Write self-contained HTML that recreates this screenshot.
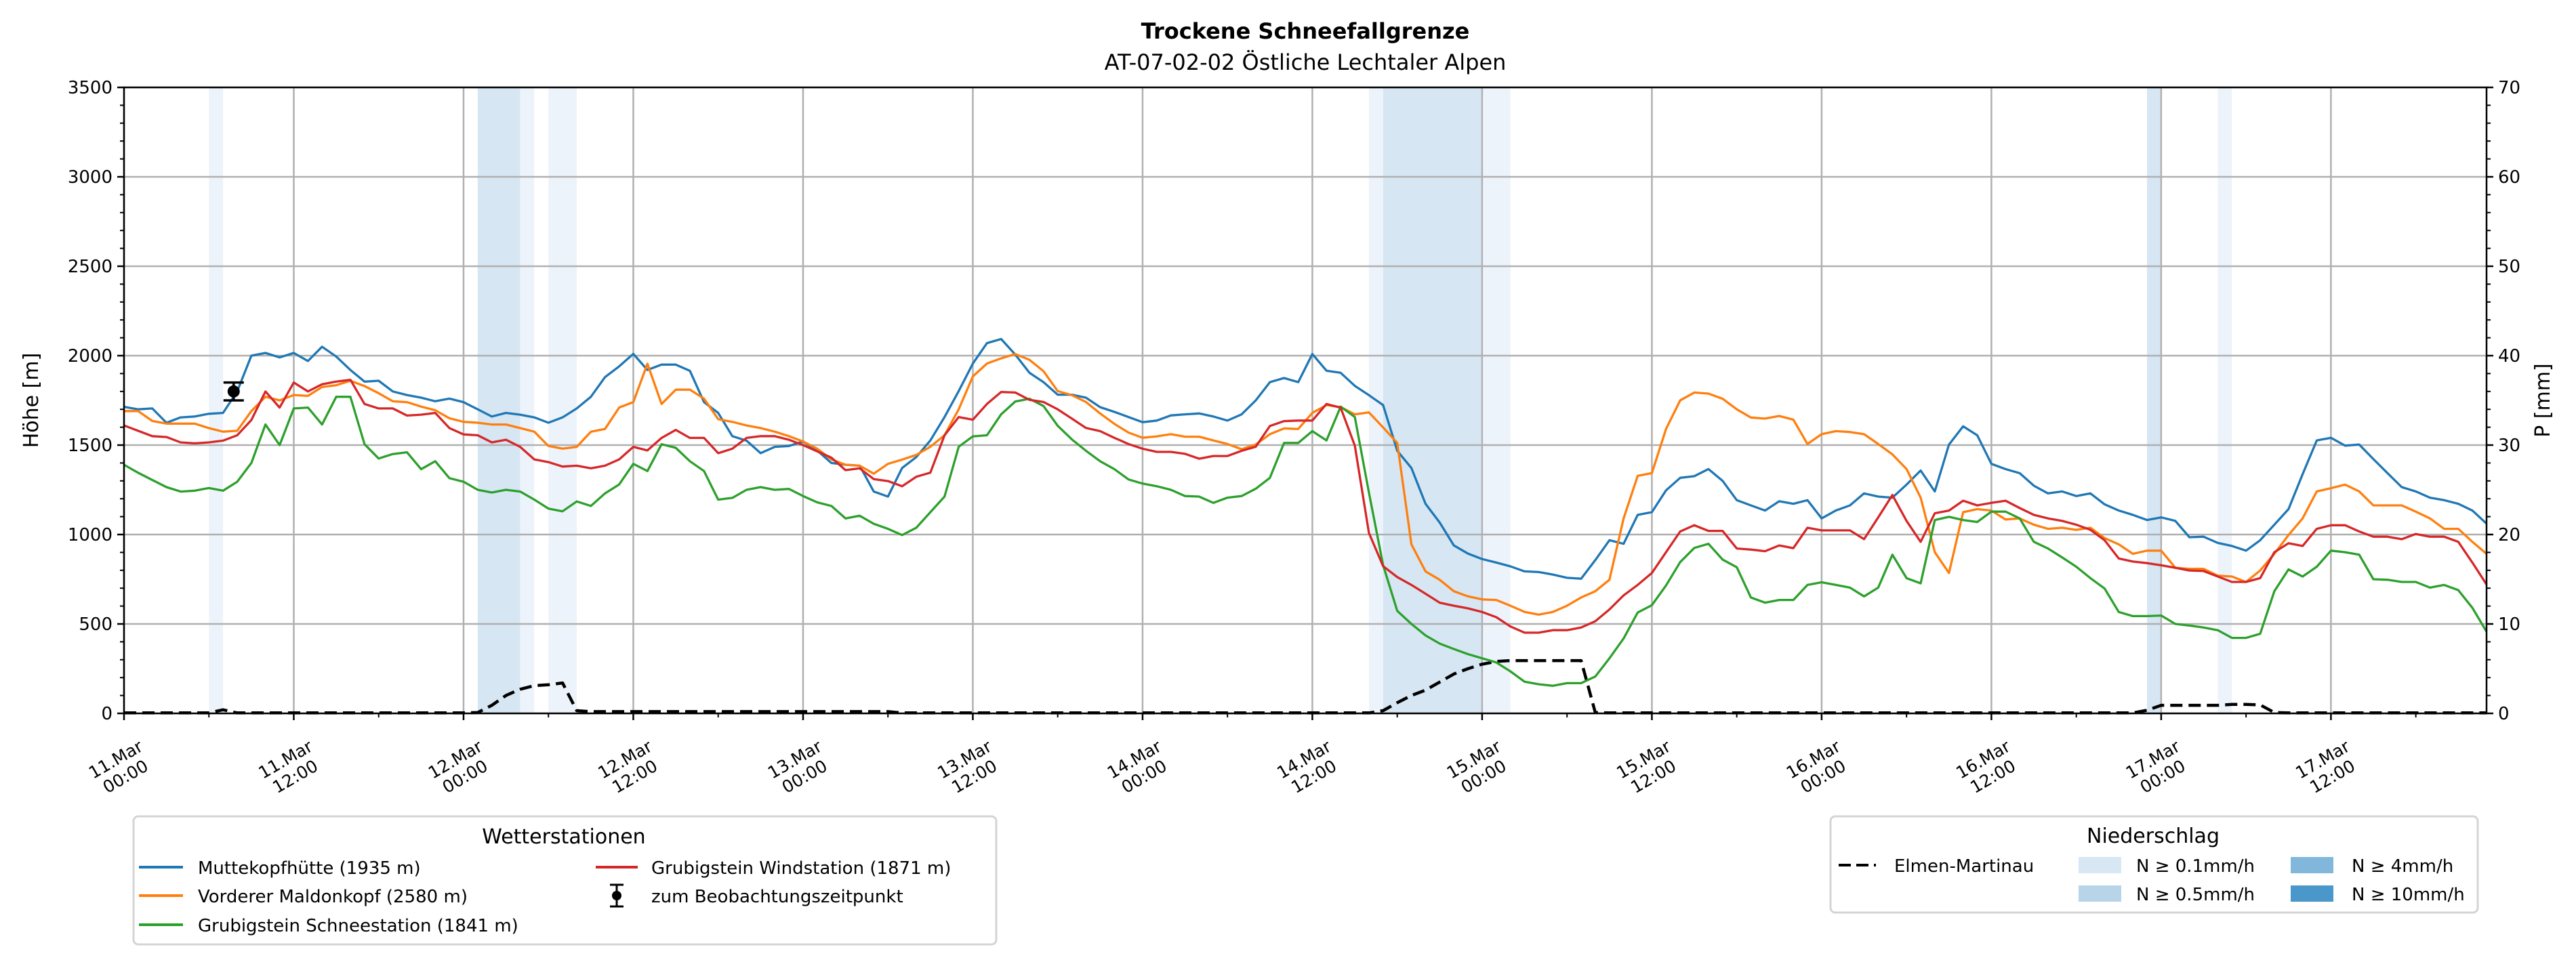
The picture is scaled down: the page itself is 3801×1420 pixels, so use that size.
<!DOCTYPE html>
<html><head><meta charset="utf-8"><style>
html,body{margin:0;padding:0;background:#fff;}
svg{display:block;font-family:"DejaVu Sans","Liberation Sans",sans-serif;}
</style></head><body>
<svg id="chart" width="3801" height="1420" viewBox="0 0 3801 1420" xmlns="http://www.w3.org/2000/svg">
<rect width="3801" height="1420" fill="#fff"/>
<text x="1926" y="57" font-size="32" font-weight="bold" text-anchor="middle">Trockene Schneefallgrenze</text>
<text x="1926" y="103" font-size="32" text-anchor="middle">AT-07-02-02 Östliche Lechtaler Alpen</text>
<g id="bands"></g><g id="grid"></g><g id="series"></g><g id="axes"></g>
<text x="0" y="0" font-size="30" text-anchor="middle" transform="translate(56,591) rotate(-90)">Höhe [m]</text>
<text x="0" y="0" font-size="30" text-anchor="middle" transform="translate(3762,591) rotate(-90)">P [mm]</text>

<g>
<rect x="197" y="1205" width="1273" height="189" rx="7" fill="#fff" stroke="#d4d4d4" stroke-width="3"/>
<text x="832" y="1245" font-size="30" text-anchor="middle">Wetterstationen</text>
<g><line x1="205" y1="1280" x2="270" y2="1280" stroke="#1f77b4" stroke-width="4"/><text x="292" y="1290" font-size="26">Muttekopfhütte (1935 m)</text></g>
<g><line x1="205" y1="1322" x2="270" y2="1322" stroke="#ff7f0e" stroke-width="4"/><text x="292" y="1332" font-size="26">Vorderer Maldonkopf (2580 m)</text></g>
<g><line x1="205" y1="1365" x2="270" y2="1365" stroke="#2ca02c" stroke-width="4"/><text x="292" y="1375" font-size="26">Grubigstein Schneestation (1841 m)</text></g>
<g><line x1="879" y1="1280" x2="941" y2="1280" stroke="#d62728" stroke-width="4"/><text x="961" y="1290" font-size="26">Grubigstein Windstation (1871 m)</text></g>
<g><line x1="910" y1="1306" x2="910" y2="1338" stroke="#000" stroke-width="3"/><line x1="900" y1="1306" x2="920" y2="1306" stroke="#000" stroke-width="3"/><line x1="900" y1="1338" x2="920" y2="1338" stroke="#000" stroke-width="3"/><circle cx="910" cy="1322" r="7"/><text x="961" y="1332" font-size="26">zum Beobachtungszeitpunkt</text></g>
</g>

<g>
<rect x="2701" y="1205" width="955" height="142" rx="7" fill="#fff" stroke="#d4d4d4" stroke-width="3"/>
<text x="3177" y="1244" font-size="30" text-anchor="middle">Niederschlag</text>
<g><line x1="2713" y1="1277" x2="2768" y2="1277" stroke="#000" stroke-width="4" stroke-dasharray="18,8"/><text x="2795" y="1287" font-size="26">Elmen-Martinau</text></g>
<g><rect x="3067" y="1265" width="63" height="24" fill="#d8e7f4"/><text x="3152" y="1287" font-size="26">N ≥ 0.1mm/h</text></g>
<g><rect x="3067" y="1307" width="63" height="24" fill="#b8d4e9"/><text x="3152" y="1329" font-size="26">N ≥ 0.5mm/h</text></g>
<g><rect x="3380" y="1265" width="63" height="24" fill="#80b7da"/><text x="3470" y="1287" font-size="26">N ≥ 4mm/h</text></g>
<g><rect x="3380" y="1307" width="63" height="24" fill="#4a97c9"/><text x="3470" y="1329" font-size="26">N ≥ 10mm/h</text></g>
</g>
</svg>
<script>
const blue=[1714,1700,1705,1625,1655,1660,1675,1680,1800,2000,2015,1990,2015,1970,2050,1995,1920,1855,1860,1800,1780,1765,1745,1760,1740,1700,1660,1680,1670,1655,1625,1655,1705,1770,1880,1940,2010,1920,1950,1950,1915,1740,1680,1550,1525,1455,1490,1495,1520,1470,1400,1390,1385,1240,
1212,1372,1433,1526,1657,1802,1956,2070,2093,2006,1904,1852,1782,1782,1765,1712,1686,1657,1628,1637,1666,1672,1677,1660,1637,1672,1750,1852,1875,1852,2009,1916,1904,1831,1779,1724,1468,1372,1172,1067,939,893,863,843,822,794,790,776,758,753,857,968,948,1110,1125,1247,1317,1326,1366,1300,1192,1163,
1134,1186,1172,1192,1090,1134,1163,1230,1212,1206,1279,1358,1241,1503,1605,1555,1395,1366,1343,1273,1230,1241,1215,1230,1169,1134,1110,1081,1096,1076,985,988,953,936,910,968,1055,1142,1337,1526,1541,1497,1503,1422,1343,1265,1241,1206,1192,1172,1134,1061];
const orange=[1690,1690,1635,1620,1620,1620,1595,1575,1580,1690,1770,1750,1780,1775,1825,1835,1860,1830,1790,1745,1740,1715,1695,1650,1630,1625,1615,1615,1595,1575,1495,1480,1490,1575,1590,1710,1740,1955,1730,1810,1810,1760,1645,1630,1610,1595,1575,1550,1520,1480,1420,1390,1385,1340,
1395,1419,1445,1491,1555,1700,1884,1956,1985,2009,1977,1913,1802,1779,1741,1677,1619,1570,1541,1549,1561,1547,1547,1526,1506,1477,1503,1561,1593,1590,1680,1724,1712,1672,1683,1599,1512,945,794,747,683,654,637,634,602,567,552,567,602,648,683,747,1090,1328,1343,1590,1750,1794,1788,1759,1700,1654,
1648,1663,1642,1506,1561,1578,1573,1561,1506,1448,1366,1206,901,785,1125,1142,1134,1084,1090,1055,1032,1038,1026,1038,980,945,892,910,910,814,808,808,770,765,735,799,892,997,1090,1241,1259,1279,1241,1163,1163,1163,1128,1090,1032,1032,959,892];
const green=[1390,1345,1305,1265,1240,1245,1260,1245,1295,1400,1615,1500,1705,1710,1615,1770,1770,1505,1425,1450,1460,1365,1410,1315,1295,1250,1235,1250,1240,1195,1145,1130,1185,1160,1230,1280,1395,1355,1505,1485,1410,1355,1195,1205,1250,1265,1250,1255,1215,1180,1160,1090,1105,1060,
1032,997,1038,1125,1212,1491,1549,1555,1672,1744,1759,1718,1608,1532,1468,1410,1366,1308,1285,1270,1250,1215,1212,1177,1206,1215,1256,1317,1512,1512,1578,1526,1715,1657,1235,829,573,500,436,390,360,331,308,285,235,177,163,154,169,169,206,308,419,564,605,715,846,925,948,860,817,648,
619,634,634,718,733,718,703,654,703,887,756,727,1081,1099,1081,1070,1128,1128,1090,959,922,872,820,756,698,567,544,544,547,500,491,480,465,422,422,445,683,805,765,820,910,901,887,750,747,735,735,703,718,689,590,457];
const red=[1610,1580,1550,1545,1515,1510,1515,1525,1555,1640,1800,1710,1850,1800,1840,1855,1865,1730,1705,1705,1665,1670,1680,1595,1560,1555,1515,1530,1490,1420,1405,1380,1385,1370,1385,1420,1490,1470,1540,1585,1540,1540,1455,1480,1540,1550,1550,1530,1500,1465,1430,1360,1370,1310,
1299,1270,1323,1346,1555,1657,1642,1730,1797,1794,1753,1741,1700,1648,1596,1578,1541,1506,1480,1462,1462,1451,1424,1439,1439,1468,1491,1607,1634,1637,1637,1730,1709,1497,1009,823,762,718,669,619,602,587,567,538,486,451,451,465,465,480,515,581,660,718,785,901,1017,1052,1020,1020,922,916,
907,939,924,1038,1023,1023,1023,974,1096,1221,1076,959,1119,1134,1189,1163,1177,1189,1148,1110,1090,1076,1055,1026,968,866,849,840,828,814,799,796,765,735,735,756,901,951,936,1032,1052,1052,1017,988,988,974,1003,988,988,959,843,721];
const precip=[0.05,0.05,0.05,0.05,0.05,0.05,0.05,0.4,0.05,0.05,0.05,0.05,0.05,0.05,0.05,0.05,0.05,0.05,0.05,0.05,0.05,0.05,0.05,0.05,0.05,
0.1,0.9,2.0,2.7,3.1,3.2,3.4,0.3,
0.2,0.2,0.2,0.2,0.2,0.2,0.2,0.2,0.2,0.2,0.2,0.2,0.2,0.2,0.2,0.2,0.2,0.2,0.2,0.2,0.2,0.2,
0.05,0.05,0.05,0.05,0.05,0.05,0.05,0.05,0.05,0.05,0.05,0.05,0.05,0.05,0.05,0.05,0.05,0.05,0.05,0.05,0.05,0.05,0.05,0.05,0.05,0.05,0.05,0.05,0.05,0.05,0.05,0.05,0.05,0.05,
0.3,1.2,2.0,2.6,3.5,4.4,5.0,5.5,5.8,5.9,5.9,5.9,5.9,5.9,5.9,0.1,
0.05,0.05,0.05,0.05,0.05,0.05,0.05,0.05,0.05,0.05,0.05,0.05,0.05,0.05,0.05,0.05,0.05,0.05,0.05,0.05,0.05,0.05,0.05,0.05,0.05,0.05,0.05,0.05,0.05,0.05,0.05,0.05,0.05,0.05,0.05,0.05,0.05,0.05,
0.35,0.9,0.9,0.9,0.9,0.9,1.0,1.0,0.95,0.1,
0.05,0.05,0.05,0.05,0.05,0.05,0.05,0.05,0.05,0.05,0.05,0.05,0.05,0.05,0.05];
const bandStart=[6,25,28,30,88,89,96,143,148];
const bandEnd=[7,28,29,32,89,96,98,144,149];
const bandLevel=[1,2,1,1,1,2,1,2,1];
const obsHour=[7.75];
const obsValue=[1800];
const obsErr=[50];
const yTicks=[0,500,1000,1500,2000,2500,3000,3500];
const y2Ticks=[0,10,20,30,40,50,60,70];
const xTickDates=["11.Mar","11.Mar","12.Mar","12.Mar","13.Mar","13.Mar","14.Mar","14.Mar","15.Mar","15.Mar","16.Mar","16.Mar","17.Mar","17.Mar"];
const xTickTimes=["00:00","12:00","00:00","12:00","00:00","12:00","00:00","12:00","00:00","12:00","00:00","12:00","00:00","12:00"];

const L=183,R=3669,T=129,B=1053,HMAX=167,YMAX=3500,PMAX=70;
const NS="http://www.w3.org/2000/svg";
const xs=h=>L+h*(R-L)/HMAX;
const ys=v=>B-v/YMAX*(B-T);
const yp=p=>B-p/PMAX*(B-T);
function mk(tag,attrs,parent){const e=document.createElementNS(NS,tag);for(const k in attrs)e.setAttribute(k,attrs[k]);parent.appendChild(e);return e;}
const gB=document.getElementById('bands'),gG=document.getElementById('grid'),gS=document.getElementById('series'),gA=document.getElementById('axes');

bandStart.forEach((s,i)=>{
  const r=mk('rect',{x:xs(s),y:T,width:xs(bandEnd[i])-xs(s),height:B-T,fill:bandLevel[i]===2?'#d6e6f3':'#edf3fa'},gB);
  
  
});
yTicks.forEach(v=>{
  const l=mk('line',{x1:L,x2:R,y1:ys(v),y2:ys(v),stroke:'#b0b0b0','stroke-width':2.5},gG);
  
  
});
xTickDates.forEach((d,i)=>{
  const x=xs(i*12);
  const l=mk('line',{x1:x,x2:x,y1:T,y2:B,stroke:'#b0b0b0','stroke-width':2.5},gG);
  
  
});
function poly(arr,scale,color,name,dash){
  const pts=arr.map((v,i)=>xs(i).toFixed(1)+','+scale(v).toFixed(1)).join(' ');
  const p=mk('polyline',{points:pts,fill:'none',stroke:color,'stroke-width':dash?4.5:3.3,'stroke-linejoin':'round'},gS);
  if(dash)p.setAttribute('stroke-dasharray','18,9');
  
  
}
poly(precip,yp,'#000','precip-line-elmen-martinau',true);
poly(blue,ys,'#1f77b4','line-muttekopfhuette');
poly(orange,ys,'#ff7f0e','line-maldonkopf');
poly(green,ys,'#2ca02c','line-schneestation');
poly(red,ys,'#d62728','line-windstation');
obsHour.forEach((h,i)=>{
  const g=mk('g',{},gS);
  
  
  const x=xs(h);
  mk('line',{x1:x,x2:x,y1:ys(obsValue[i]+obsErr[i]),y2:ys(obsValue[i]-obsErr[i]),stroke:'#000','stroke-width':3.5},g);
  mk('line',{x1:x-15,x2:x+15,y1:ys(obsValue[i]+obsErr[i]),y2:ys(obsValue[i]+obsErr[i]),stroke:'#000','stroke-width':3.5},g);
  mk('line',{x1:x-15,x2:x+15,y1:ys(obsValue[i]-obsErr[i]),y2:ys(obsValue[i]-obsErr[i]),stroke:'#000','stroke-width':3.5},g);
  mk('circle',{cx:x,cy:ys(obsValue[i]),r:9,fill:'#000'},g);
});
const fr=mk('rect',{x:L,y:T,width:R-L,height:B-T,fill:'none',stroke:'#000','stroke-width':2.5},gA);


yTicks.forEach(v=>{
  mk('line',{x1:L-10,x2:L,y1:ys(v),y2:ys(v),stroke:'#000','stroke-width':2.5},gA);
  const t=mk('text',{x:L-17,y:ys(v)+9,'font-size':26,'text-anchor':'end'},gA);
  t.textContent=v;
  
  
});
for(let v=0;v<=YMAX;v+=100){mk('line',{x1:L-6,x2:L,y1:ys(v),y2:ys(v),stroke:'#000','stroke-width':2},gA);}
y2Ticks.forEach(v=>{
  mk('line',{x1:R,x2:R+10,y1:yp(v),y2:yp(v),stroke:'#000','stroke-width':2.5},gA);
  const t=mk('text',{x:R+17,y:yp(v)+9,'font-size':26},gA);
  t.textContent=v;
  
  
});
for(let v=0;v<=PMAX;v+=2){mk('line',{x1:R,x2:R+6,y1:yp(v),y2:yp(v),stroke:'#000','stroke-width':2},gA);}
for(let h=6;h<=HMAX;h+=12){mk('line',{x1:xs(h),x2:xs(h),y1:B,y2:B+6,stroke:'#000','stroke-width':2},gA);}
xTickDates.forEach((d,i)=>{
  const x=xs(i*12);
  mk('line',{x1:x,x2:x,y1:B,y2:B+10,stroke:'#000','stroke-width':2.5},gA);
  const t=mk('text',{x:0,y:0,'font-size':25,'text-anchor':'middle',transform:`translate(${x-6},1132) rotate(-30)`},gA);
  
  
  const a=mk('tspan',{x:0,y:-4},t);a.textContent=d;
  const b=mk('tspan',{x:0,y:25},t);b.textContent=xTickTimes[i];
});
</script>
</body></html>
